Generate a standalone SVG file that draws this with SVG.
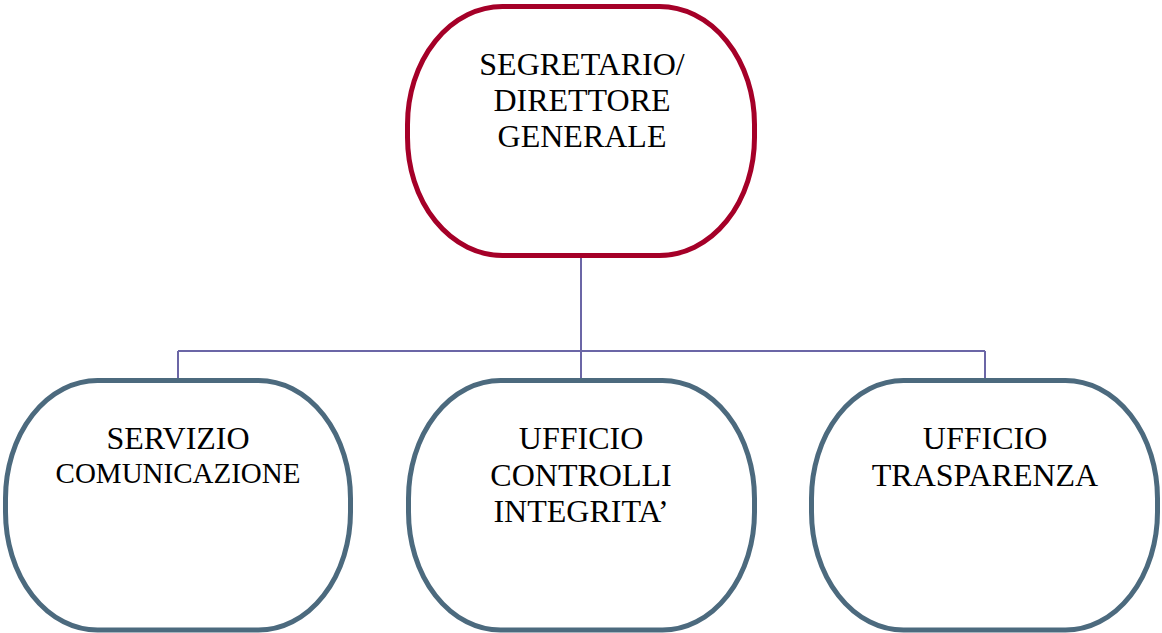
<svg xmlns="http://www.w3.org/2000/svg" width="1162" height="633" viewBox="0 0 1162 633">
<style>
.top{fill:#fff;stroke:#a50028;stroke-width:5}
.sub{fill:#fff;stroke:#4c6a7e;stroke-width:5}
.t{font-family:"Liberation Serif","Times New Roman",serif;font-size:32px;fill:#000;text-anchor:middle}
.c{fill:none;stroke:#6b66a6;stroke-width:2}
</style>
<rect width="1162" height="633" fill="#fff"/>
<g id="connectors">
<path class="c" d="M581 256V380M178 351H985M178 351V380M985 351V380"/>
</g>
<g id="node-segretario">
<rect class="top" x="407.5" y="6.5" width="347" height="249" rx="95" ry="118"/>
<text class="t" x="582" y="75">SEGRETARIO/</text>
<text class="t" x="582" y="111">DIRETTORE</text>
<text class="t" x="582" y="147">GENERALE</text>
</g>
<g id="node-comunicazione">
<rect class="sub" x="5.5" y="380.5" width="345" height="249.5" rx="92" ry="118"/>
<text class="t" x="178" y="449">SERVIZIO</text>
<text class="t" x="178" y="483" style="font-size:29px">COMUNICAZIONE</text>
</g>
<g id="node-controlli">
<rect class="sub" x="408.5" y="380.5" width="346" height="249.5" rx="92" ry="118"/>
<text class="t" x="581" y="449">UFFICIO</text>
<text class="t" x="581" y="486">CONTROLLI</text>
<text class="t" x="581" y="522">INTEGRITA’</text>
</g>
<g id="node-trasparenza">
<rect class="sub" x="811.5" y="380.5" width="346" height="249.5" rx="92" ry="118"/>
<text class="t" x="985" y="449">UFFICIO</text>
<text class="t" x="985" y="486">TRASPARENZA</text>
</g>
</svg>
